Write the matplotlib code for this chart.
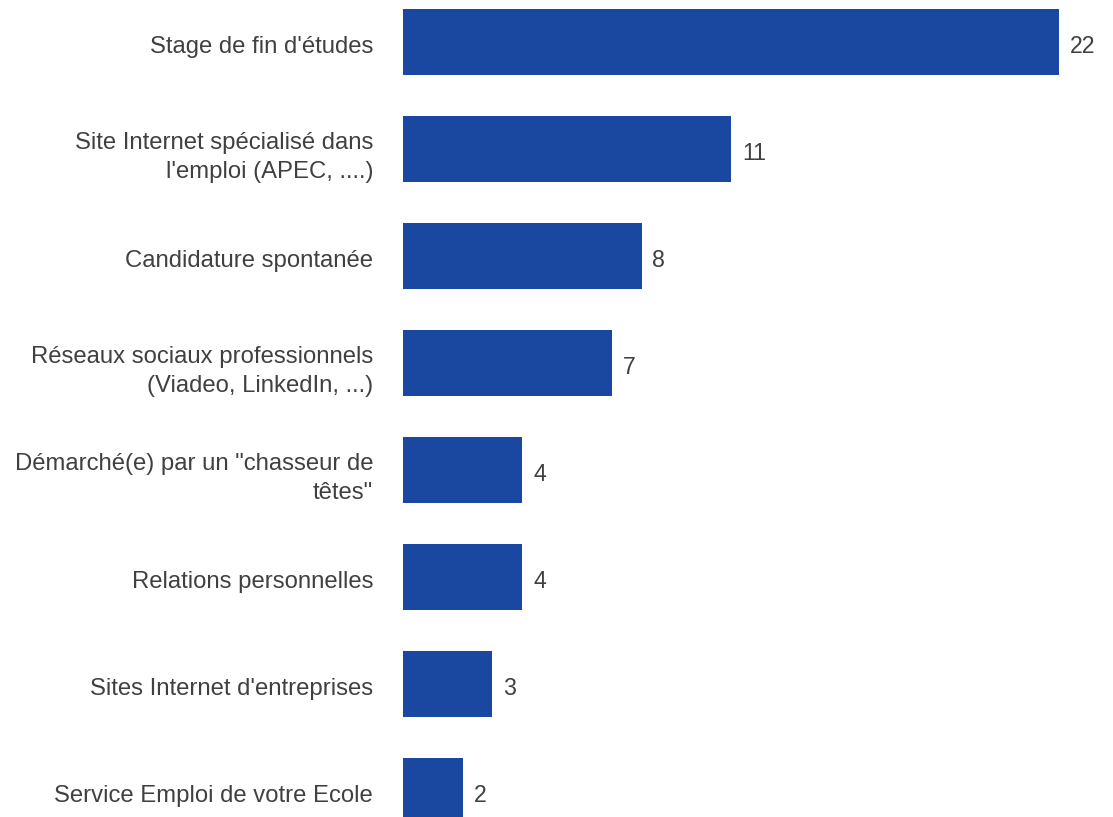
import matplotlib
matplotlib.use("Agg")
import matplotlib.pyplot as plt

plt.rcParams['font.family'] = ['Liberation Sans', 'DejaVu Sans']

categories = [
    "Stage de fin d'études",
    "Site Internet spécialisé dans\nl'emploi (APEC, ....)",
    "Candidature spontanée",
    "Réseaux sociaux professionnels\n(Viadeo, LinkedIn, ...)",
    "Démarché(e) par un \"chasseur de\ntêtes\"",
    "Relations personnelles",
    "Sites Internet d'entreprises",
    "Service Emploi de votre Ecole",
]
values = [22, 11, 8, 7, 4, 4, 3, 2]

bar_color = '#1a47a0'
text_color = '#404040'

fig = plt.figure(figsize=(11.13, 8.17), dpi=100)
ax = fig.add_axes([403 / 1113, 0, 1 - 403 / 1113, 1])

pos = list(range(len(values)))
ax.barh(pos, values, height=0.61, color=bar_color)

ax.set_xlim(0, 23.8)
ax.set_ylim(7.243, -0.393)

# small nudge down so text sits like the original
dy = 0.02
for p, v in zip(pos, values):
    ax.text(v + 0.36, p + dy, str(v), va='center_baseline', ha='left', fontsize=16.7,
            color=text_color)

for p, c in zip(pos, categories):
    ax.text(-1.0, p + dy, c, va='center_baseline', ha='right', fontsize=17.2,
            color=text_color, linespacing=1.45)

ax.axis('off')
fig.savefig('out.png', dpi=100)
